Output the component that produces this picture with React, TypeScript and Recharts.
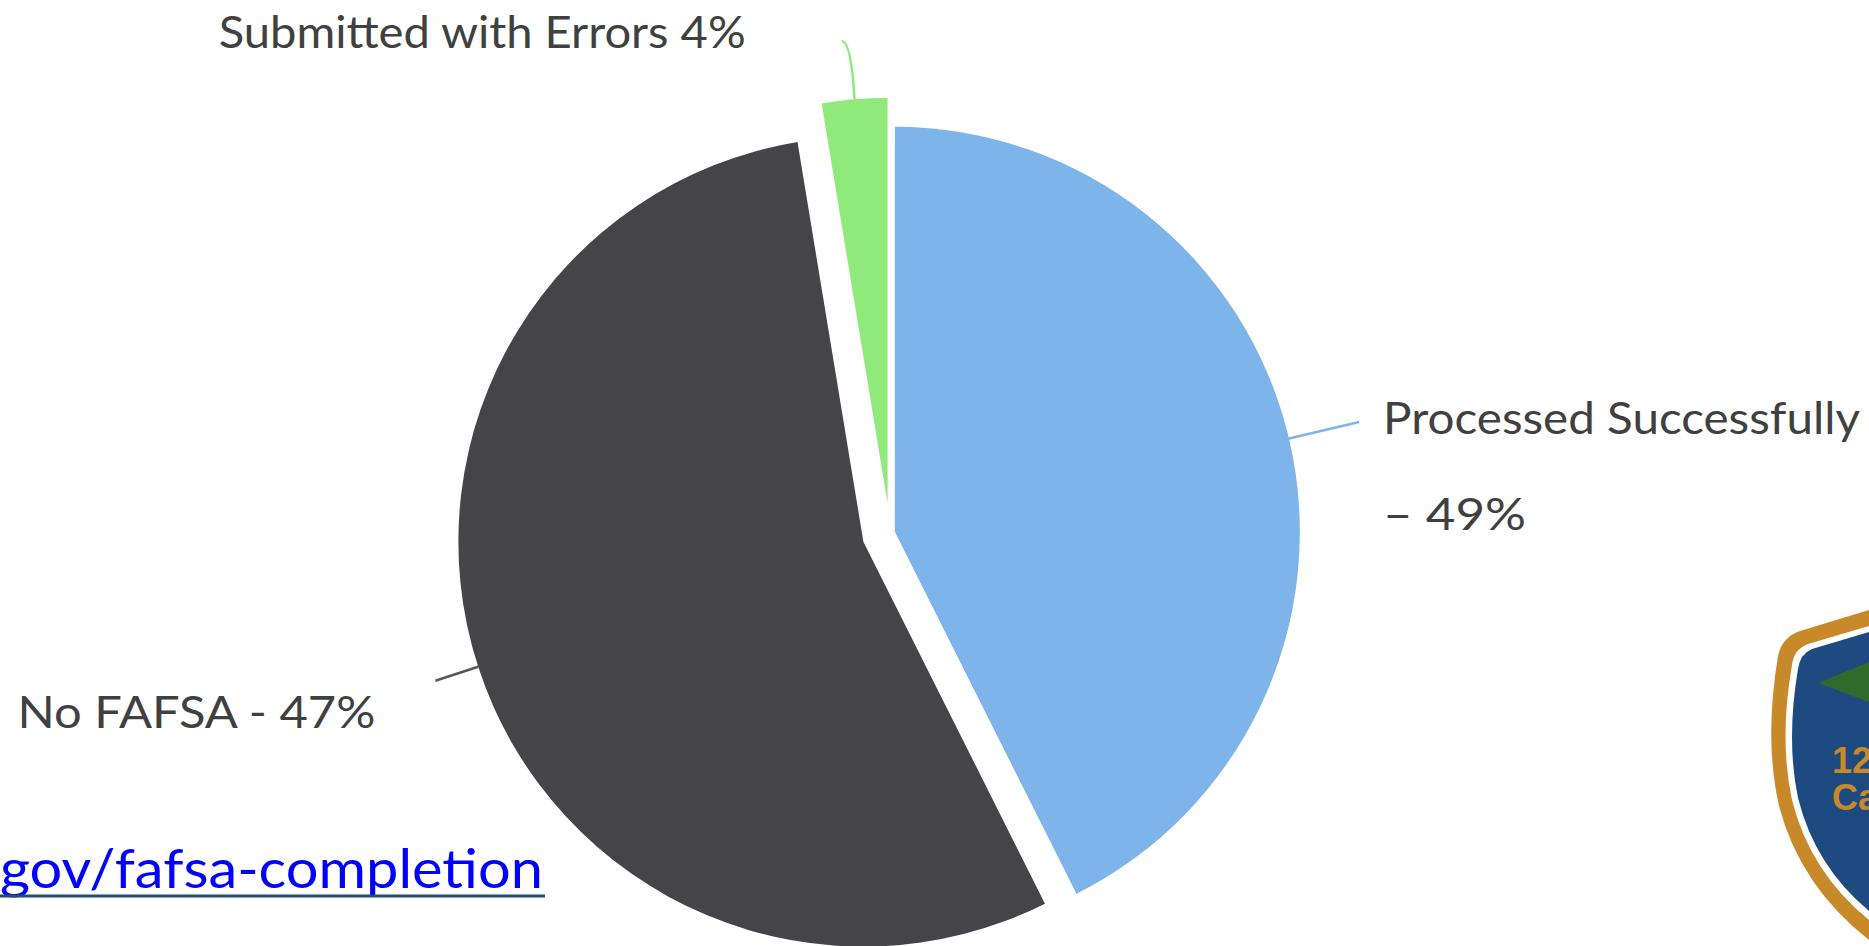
import React from "react";
import { PieChart, Pie, Cell } from "recharts";

// slice shares as drawn (the printed percentages are kept as label text)
const categories = ["Processed Successfully", "No FAFSA", "Submitted with Errors"];
const shares = [42.6, 54.8, 2.6];
const labelLines = [["Processed  Successfully", "\u2013 49%"], ["No FAFSA - 47%"], ["Submitted with Errors 4%"]];

const colors = ["#7db4e9", "#454449", "#8fe97b"];
const leaderColors = ["#7db4e9", "#58575c", "#8fe97b"];
const explode = [5, 28, 30];

const labelCfg = [
  { len: 72, bend: 0, dx: 24, dy: 12, anchor: "start", gap: 96, widths: [477, 143] },
  { len: 45, bend: 0, dx: -60, dy: 47, anchor: "end", gap: 0, widths: [358] },
  { len: 59, bend: -8, dx: -96, dy: 7, anchor: "end", gap: 0, widths: [527] },
];

const W = 1869;
const H = 946;
const CX = 890;
const CY = 533;
const R = 405;
const RAD = Math.PI / 180;
const FONT = "Lato, 'Noto Sans', sans-serif";

const rows = categories.map((name, i) => ({ name, value: shares[i] }));

const total = shares.reduce((a, b) => a + b, 0);
let acc = 0;
const mids = shares.map((v) => {
  const m = ((acc + v / 2) / total) * 360;
  acc += v;
  return m;
});

const renderLabel = (slice: number) => (p: any) => {
  if (p.index !== slice) return null;
  const cfg = labelCfg[slice];
  const a = -p.midAngle * RAD;
  const sx = p.cx + p.outerRadius * Math.cos(a);
  const sy = p.cy + p.outerRadius * Math.sin(a);
  const ex = p.cx + (p.outerRadius + cfg.len) * Math.cos(a) + cfg.bend;
  const ey = p.cy + (p.outerRadius + cfg.len) * Math.sin(a);
  const d = cfg.bend ? `M${sx},${sy} Q${sx - 3},${ey + 2} ${ex},${ey}` : `M${sx},${sy} L${ex},${ey}`;
  return (
    <g key={`lbl-${slice}`}>
      <path d={d} stroke={leaderColors[slice]} strokeWidth={2.5} fill="none" />
      {labelLines[slice].map((t, k) => (
        <text
          key={k}
          x={ex + cfg.dx}
          y={ey + cfg.dy + k * cfg.gap}
          textAnchor={cfg.anchor as any}
          fontSize={44}
          fontFamily={FONT}
          fill="#404040"
          textLength={cfg.widths[k]}
          lengthAdjust="spacingAndGlyphs"
        >
          {t}
        </text>
      ))}
    </g>
  );
};

const Shield: React.FC = () => (
  <svg width={W} height={H} style={{ position: "absolute", left: 0, top: 0, pointerEvents: "none" }}>
    <text x={0} y={888} fontSize={54} fontFamily={FONT} fill="#0000ff" textLength={543} lengthAdjust="spacingAndGlyphs">
      gov/fafsa-completion
    </text>
    <line x1={0} y1={896} x2={545} y2={896} stroke="#1f4e79" strokeWidth={3} />
    <path d="M1869,610 L1800,631 Q1782,637 1778,656 Q1764,740 1779,806 Q1800,886 1869,940 Z" fill="#c8892a" />
    <path d="M1869,626 L1808,644 Q1794,649 1792,665 Q1779,740 1792,800 Q1810,872 1869,920 Z" fill="#ffffff" />
    <path d="M1869,632 L1812,649 Q1800,654 1798,669 Q1786,740 1798,798 Q1815,866 1869,911 Z" fill="#1d4a80" />
    <path d="M1818,683 L1869,662 L1869,702 Z" fill="#2f6b2b" />
    <text x={1832} y={773} fontSize={36} fontWeight="bold" fontFamily="'Liberation Sans', Arial, sans-serif" fill="#c8892a">12</text>
    <text x={1832} y={810} fontSize={36} fontWeight="bold" fontFamily="'Liberation Sans', Arial, sans-serif" fill="#c8892a">Ca</text>
  </svg>
);

const App: React.FC = () => {
  return (
    <div style={{ position: "absolute", left: 0, top: 0, width: W, height: H, overflow: "hidden", background: "#fff" }}>
      <PieChart width={W} height={H} margin={{ top: 0, right: 0, bottom: 0, left: 0 }}>
        {categories.map((c, i) => (
          <Pie
            key={c}
            data={rows}
            dataKey="value"
            nameKey="name"
            cx={CX + explode[i] * Math.sin(mids[i] * RAD)}
            cy={CY - explode[i] * Math.cos(mids[i] * RAD)}
            outerRadius={R}
            startAngle={90}
            endAngle={-270}
            stroke="none"
            labelLine={false}
            label={renderLabel(i)}
            isAnimationActive={false}
          >
            {rows.map((r, j) => (
              <Cell key={r.name} fill={j === i ? colors[j] : "transparent"} />
            ))}
          </Pie>
        ))}
      </PieChart>
      <Shield />
    </div>
  );
};

export default App;
